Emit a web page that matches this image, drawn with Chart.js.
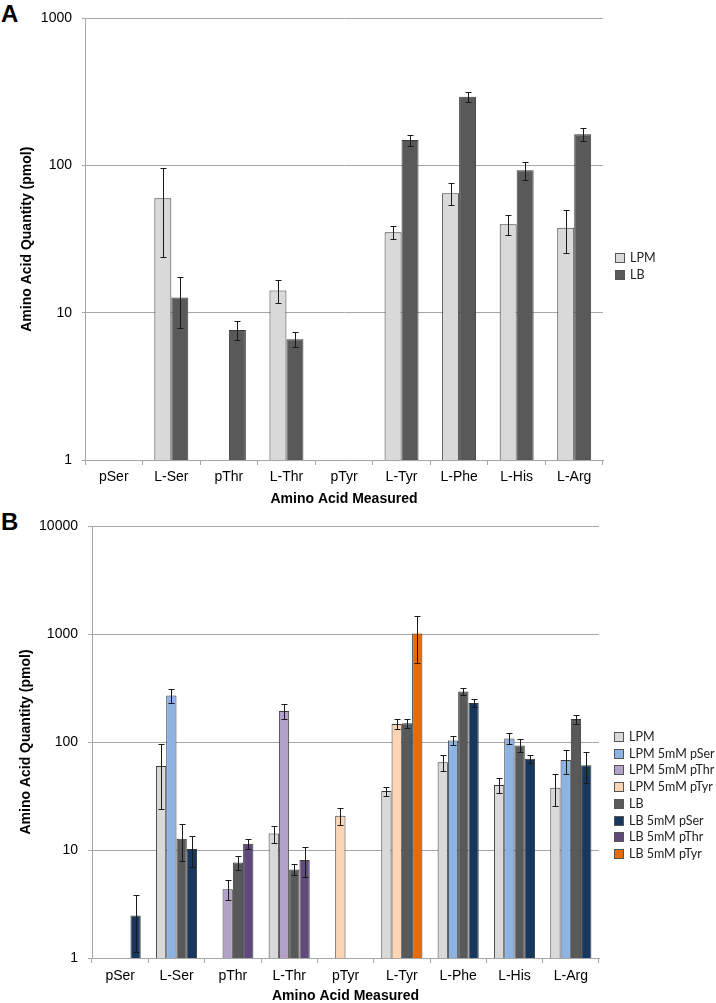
<!DOCTYPE html>
<html>
<head>
<meta charset="utf-8">
<script src="https://cdn.jsdelivr.net/npm/chart.js@4.4.1/dist/chart.umd.min.js"></script>
<style>
  body { margin: 0; width: 716px; height: 1003px; overflow: hidden; background: #fff; position: relative; }
  canvas { position: absolute; left: 0; }
  .tag { position: absolute; left: 1px; font: bold 24px/24px "Liberation Sans", Arial, sans-serif; color: #000; }
  .legend { position: absolute; font: 12.5px "Lato", sans-serif; color: #222; }
  .legend div { position: absolute; left: 0; height: 16px; line-height: 16px; white-space: nowrap; }
  .legend span { display: inline-block; width: 8px; height: 8px; border: 1px solid #555; margin-right: 5px; vertical-align: -1px; }
</style>
</head>
<body>
<div class="tag" style="top:2px">A</div>
<div class="tag" style="top:510px">B</div>
<canvas id="chartA" width="716" height="510" style="top:0"></canvas>
<canvas id="chartB" width="716" height="500" style="top:505px"></canvas>
<div class="legend" id="legendA" style="left:615px; top:250px"></div>
<div class="legend" id="legendB" style="left:614px; top:729px"></div>
<script>
const categories = ['pSer', 'L-Ser', 'pThr', 'L-Thr', 'pTyr', 'L-Tyr', 'L-Phe', 'L-His', 'L-Arg'];

// mean and error (pmol)
const lpm        = [null, 60,   null, 14.2, null, 35.2, 64.8, 40,  37.8];
const lpmErr     = [null, 36,   null, 2.6,  null, 3.5,  11,   6.2, 12.5];
const lb         = [null, 12.7, 7.65, 6.6,  null, 149,  294,  93,  163];
const lbErr      = [null, 4.8,  1.1,  0.78, null, 13,   22,   13,  16];
const lpmPSer    = [null, 270,  null, null, null, null, 103.5, 108, 68];
const lpmPSerErr = [null, 40,   null, null, null, null, 10,   12,  17];
const lpmPThr    = [null, null, 4.34, 194,  null, null, null, null, null];
const lpmPThrErr = [null, null, 0.9,  30,   null, null, null, null, null];
const lpmPTyr    = [null, null, null, null, 20.8, 147,  null, null, null];
const lpmPTyrErr = [null, null, null, null, 3.6,  16,   null, null, null];
const lbPSer     = [2.48, 10.2, null, null, null, null, 230,  70,  61];
const lbPSerErr  = [1.35, 3.2,  null, null, null, null, 20,   5.7, 19];
const lbPThr     = [null, null, 11.4, 8.1,  null, null, null, null, null];
const lbPThrErr  = [null, null, 1.15, 2.45, null, null, null, null, null];
const lbPTyr     = [null, null, null, null, null, 1009, null, null, null];
const lbPTyrErr  = [null, null, null, null, null, 470,  null, null, null];

const ticksA = [1, 10, 100, 1000];
const ticksB = [1, 10, 100, 1000, 10000];

const colors = {
  'LPM': '#d9d9d9',
  'LPM 5mM pSer': '#8db3e2',
  'LPM 5mM pThr': '#b3a2c7',
  'LPM 5mM pTyr': '#fcd5b5',
  'LB': '#595959',
  'LB 5mM pSer': '#17375e',
  'LB 5mM pThr': '#604a7b',
  'LB 5mM pTyr': '#e46c0a'
};

const FONT = '"Liberation Sans", Arial, sans-serif';
Chart.defaults.font.family = FONT;
Chart.defaults.color = '#000';

function bar(label, data, errors, stack) {
  return {
    label, data, errors, stack,
    backgroundColor: colors[label],
    borderColor: '#3a3a3a',
    borderWidth: 1
  };
}

// draws the +/- error whiskers on top of the bars
const errorBars = {
  id: 'errorBars',
  afterDatasetsDraw(chart) {
    const ctx = chart.ctx;
    const y = chart.scales.y;
    ctx.save();
    ctx.strokeStyle = '#1a1a1a';
    ctx.lineWidth = 1;
    chart.data.datasets.forEach((ds, di) => {
      const meta = chart.getDatasetMeta(di);
      ds.data.forEach((v, i) => {
        const e = ds.errors[i];
        if (v == null || e == null) return;
        const x = Math.round(meta.data[i].x) + 0.5;
        const hi = Math.round(y.getPixelForValue(v + e)) + 0.5;
        const lo = Math.round(y.getPixelForValue(v - e)) + 0.5;
        ctx.beginPath();
        ctx.moveTo(x, hi); ctx.lineTo(x, lo);
        ctx.moveTo(x - 3, hi); ctx.lineTo(x + 3, hi);
        ctx.moveTo(x - 3, lo); ctx.lineTo(x + 3, lo);
        ctx.stroke();
      });
    });
    ctx.restore();
  }
};

function makeOptions(o) {
  return {
    responsive: false,
    animation: false,
    devicePixelRatio: 1,
    categoryPercentage: o.catPct,
    barPercentage: 1,
    layout: { padding: { left: 0, top: o.top, right: o.right, bottom: 0 } },
    plugins: { legend: { display: false }, tooltip: { enabled: false } },
    scales: {
      x: {
        afterFit: s => { s.height = o.xHeight; },
        ticks: { font: { size: 14 }, padding: o.xPad, maxRotation: 0, autoSkip: false },
        grid: { drawOnChartArea: false, color: '#a6a6a6', tickLength: 5, offset: true },
        border: { color: '#a6a6a6' },
        title: { display: true, text: 'Amino Acid Measured', font: { size: 14, weight: 'bold' }, padding: { top: 0, bottom: o.xTitlePad } }
      },
      y: {
        type: 'logarithmic',
        stacked: false,
        min: 1,
        max: o.ticks[o.ticks.length - 1],
        afterBuildTicks: s => { s.ticks = o.ticks.map(v => ({ value: v })); },
        afterFit: s => { s.width = o.yWidth; },
        ticks: { font: { size: 14 }, padding: 10, callback: v => String(v) },
        grid: { color: '#a6a6a6', tickLength: o.yTick },
        border: { color: '#a6a6a6' },
        title: { display: true, text: 'Amino Acid Quantity (pmol)', font: { size: 14, weight: 'bold' }, padding: { top: o.yTitlePad, bottom: 0 } }
      }
    }
  };
}

new Chart(document.getElementById('chartA'), {
  type: 'bar',
  data: {
    labels: categories,
    datasets: [
      bar('LPM', lpm, lpmErr),
      bar('LB', lb, lbErr)
    ]
  },
  options: makeOptions({ catPct: 0.59, top: 15, right: 113, xHeight: 50, xPad: 4, xTitlePad: 2.6,
    yWidth: 85, yTick: 3, yTitlePad: 19, ticks: ticksA }),
  plugins: [errorBars]
});

const chartB = new Chart(document.getElementById('chartB'), {
  type: 'bar',
  data: {
    labels: categories,
    datasets: [
      bar('LPM', lpm, lpmErr, 'a'),
      bar('LPM 5mM pSer', lpmPSer, lpmPSerErr, 'b'),
      bar('LPM 5mM pThr', lpmPThr, lpmPThrErr, 'b'),
      bar('LPM 5mM pTyr', lpmPTyr, lpmPTyrErr, 'b'),
      bar('LB', lb, lbErr, 'c'),
      bar('LB 5mM pSer', lbPSer, lbPSerErr, 'd'),
      bar('LB 5mM pThr', lbPThr, lbPThrErr, 'd'),
      bar('LB 5mM pTyr', lbPTyr, lbPTyrErr, 'd')
    ]
  },
  options: makeOptions({ catPct: 0.73, top: 21, right: 117, xHeight: 47, xPad: 5, xTitlePad: 0,
    yWidth: 92, yTick: 4, yTitlePad: 17.6, ticks: ticksB }),
  plugins: [errorBars]
});

function buildLegend(id, names, step) {
  const box = document.getElementById(id);
  names.forEach((name, i) => {
    const row = document.createElement('div');
    row.style.top = (i * step) + 'px';
    row.innerHTML = '<span style="background:' + colors[name] + '"></span>' + name;
    box.appendChild(row);
  });
}
buildLegend('legendA', ['LPM', 'LB'], 17);
buildLegend('legendB', chartB.data.datasets.map(d => d.label), 16.7);
</script>
</body>
</html>
